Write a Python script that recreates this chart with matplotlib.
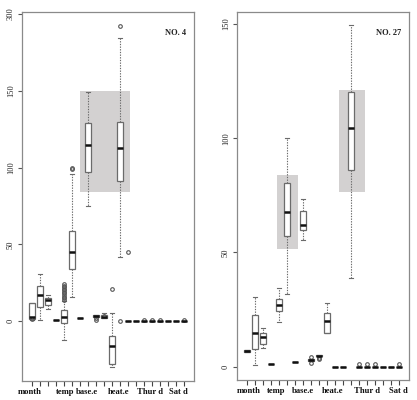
import numpy as np
import matplotlib
matplotlib.use("Agg")
import matplotlib.pyplot as plt

# ---------------- data: panel NO. 4 ----------------
l_q1 = [1.5, 9, 10.5, 1, -1, 34, 2, 97, 2.5, 2, -28, 91, 0, 0, 0, 0, 0, 0, 0, 0]
l_med = [2.5, 17, 13.5, 1, 2.5, 45, 2, 115, 3.5, 3, -16, 113, 0, 0, 0, 0, 0, 0, 0, 0]
l_q3 = [12, 23, 15, 1, 7, 59, 2, 129, 4, 4, -10, 130, 0, 0, 0, 0, 0, 0, 0, 0]
l_lo = [1, 1, 8, 1, -12, 16, 2, 75, 2.5, 2, -30, 42, 0, 0, 0, 0, 0, 0, 0, 0]
l_hi = [12, 31, 17, 1, 13, 96, 2, 149, 4, 5, 5, 254, 0, 0, 0, 0, 0, 0, 0, 0]
l_fliers = [[1.5], [], [], [], [14, 15, 16, 17, 18, 19, 20, 21, 22, 23, 24],
            [99, 100], [], [], [1, 2], [3.5], [21], [0, 276], [45], [],
            [1], [1], [1], [], [], [1]]
l_labels = ["month", "temp", "base.e", "heat.e", "Thur d", "Sat d"]
l_label_pos = [0.75, 5.2, 7.87, 11.76, 15.75, 19.3]
l_yticks = [0, 50, 100, 150, 300]
l_rect = (6.94, 13.3, 84, 150)

# ---------------- data: panel NO. 27 ----------------
r_q1 = [6.5, 7.7, 9.8, 1, 24.4, 57, 2, 60, 2.5, 4.5, 14.6, 0, 0, 86, 0, 0, 0, 0, 0, 0]
r_med = [7, 14.7, 13, 1, 27, 67.7, 2, 61.8, 3, 4.8, 20, 0, 0, 104.6, 0, 0, 0, 0, 0, 0]
r_q3 = [7.5, 22.6, 14.6, 1, 29.5, 80.6, 2, 68.3, 3.3, 5, 23.4, 0, 0, 120, 0, 0, 0, 0, 0, 0]
r_lo = [6.5, 0.7, 8, 1, 19.4, 31.7, 2, 55.5, 2.5, 4.5, 14.6, 0, 0, 39, 0, 0, 0, 0, 0, 0]
r_hi = [7.5, 30.6, 16.8, 1, 34.3, 100, 2, 73.3, 3.5, 5, 27.7, 0, 0, 149.6, 0, 0, 0, 0, 0, 0]
r_fliers = [[], [], [], [], [], [], [], [], [1.5, 4.2], [3.3, 3.8], [], [], [], [],
            [1], [1], [1], [], [], [1]]
r_labels = ["month", "temp", "base.e", "heat.e", "Thur d", "Sat d"]
r_label_pos = [1.16, 4.65, 8.02, 11.7, 16.06, 19.87]
r_yticks = [0, 50, 100, 150]
r_rects = [(4.7, 7.36, 51.5, 83.9), (12.47, 15.79, 76.3, 121.1)]

EDGE = "#6b6b6b"
AX = "#8a8a8a"
SERIF = ["Liberation Serif", "DejaVu Serif"]


def fwd(y):
    y = np.asarray(y, dtype=float)
    return np.where(y <= 150, y, 150 + (y - 150) / 3.0)


def inv(t):
    t = np.asarray(t, dtype=float)
    return np.where(t <= 150, t, 150 + (t - 150) * 3.0)


def draw(ax, q1, med, q3, lo, hi, fl):
    stats = []
    for i in range(len(q1)):
        stats.append(dict(q1=q1[i], med=med[i], q3=q3[i], whislo=lo[i],
                          whishi=hi[i], fliers=fl[i]))
    ax.bxp(stats, positions=np.arange(1, len(stats) + 1), widths=0.8,
           patch_artist=True, manage_ticks=False,
           boxprops=dict(facecolor="white", edgecolor=EDGE, linewidth=0.9),
           medianprops=dict(color="#111111", linewidth=1.8, solid_capstyle="butt"),
           whiskerprops=dict(color=EDGE, linewidth=0.8, linestyle=(0, (1.2, 1.2))),
           capprops=dict(color=EDGE, linewidth=0.8),
           flierprops=dict(marker="o", markersize=2.6, markerfacecolor="none",
                           markeredgecolor="#555555", markeredgewidth=0.8),
           capwidths=0.4)


def style(ax, yticks, labels, label_pos):
    ax.set_xlim(-0.25, 21.25)
    ax.set_xticks(np.arange(1, 21))
    ax.set_xticklabels([])
    ax.tick_params(axis="x", which="major", length=3.5, width=0.8, color="#444444")
    ax.set_xticks(label_pos, labels, minor=True)
    ax.tick_params(axis="x", which="minor", length=0, pad=5)
    for t in ax.get_xticklabels(minor=True):
        t.set_fontfamily(SERIF)
        t.set_fontweight("bold")
        t.set_fontsize(6.2)
        t.set_color("#111111")
    ax.set_yticks(yticks)
    ax.set_yticklabels([str(v) for v in yticks], rotation=90, va="center",
                       fontfamily=SERIF, fontsize=6.0, color="#222222")
    ax.tick_params(axis="y", length=3, width=0.8, color="#555555", pad=2)
    for s in ax.spines.values():
        s.set_color(AX)
        s.set_linewidth(0.9)


fig = plt.figure(figsize=(4.17, 4.00), dpi=100)
fig.patch.set_facecolor("white")

axL = fig.add_axes([22 / 417, 19 / 400, 172 / 417, 369 / 400])
axL.set_yscale("function", functions=(fwd, inv))
axL.set_ylim(-39, 304)
x0, x1, y0, y1 = l_rect
axL.add_patch(plt.Rectangle((x0, y0), x1 - x0, y1 - y0, facecolor="#d3d1d1",
                            edgecolor="none", zorder=0))
draw(axL, l_q1, l_med, l_q3, l_lo, l_hi, l_fliers)
style(axL, l_yticks, l_labels, l_label_pos)
axL.text(0.955, 0.955, "NO. 4", transform=axL.transAxes, ha="right", va="top",
         fontfamily=SERIF, fontsize=6, fontweight="bold", color="#222222")

axR = fig.add_axes([237 / 417, 20 / 400, 172 / 417, 368 / 400])
axR.set_ylim(-5.8, 155.2)
for (x0, x1, y0, y1) in r_rects:
    axR.add_patch(plt.Rectangle((x0, y0), x1 - x0, y1 - y0, facecolor="#d3d1d1",
                                edgecolor="none", zorder=0))
draw(axR, r_q1, r_med, r_q3, r_lo, r_hi, r_fliers)
style(axR, r_yticks, r_labels, r_label_pos)
axR.text(0.955, 0.955, "NO. 27", transform=axR.transAxes, ha="right", va="top",
         fontfamily=SERIF, fontsize=6, fontweight="bold", color="#222222")

fig.savefig("out.png", dpi=100, facecolor="white")
